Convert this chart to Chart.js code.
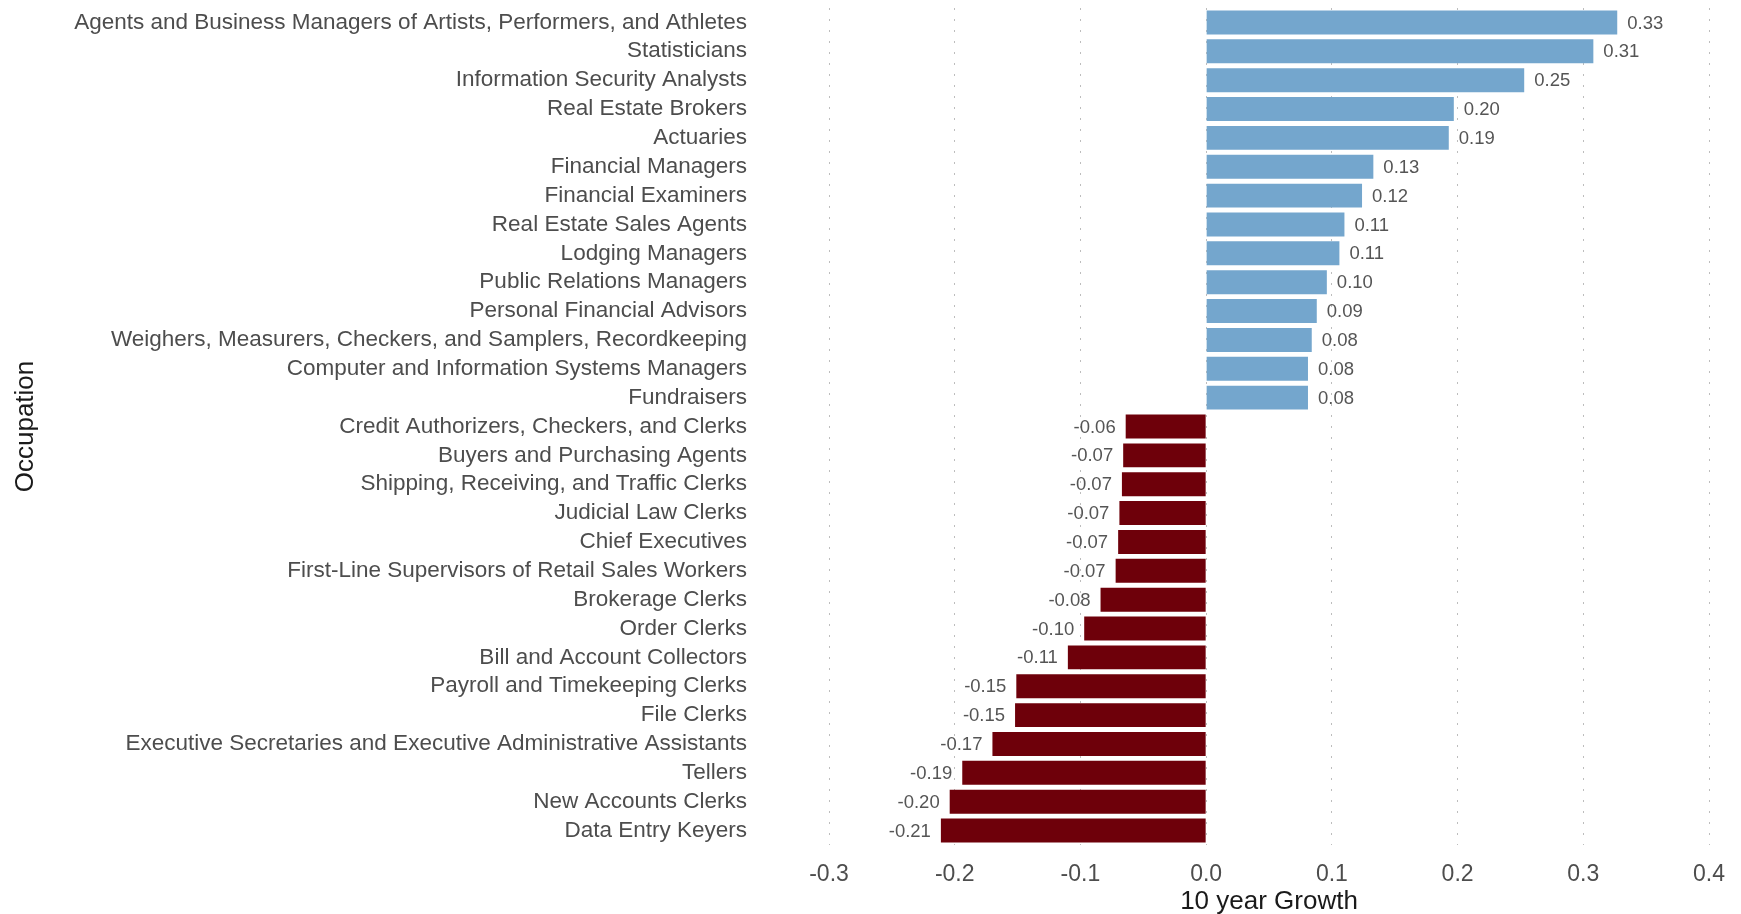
<!DOCTYPE html>
<html>
<head>
<meta charset="utf-8">
<script src="https://cdn.jsdelivr.net/npm/chart.js@4/dist/chart.umd.min.js"></script>
<style>
  html, body { margin: 0; padding: 0; background: #fff; }
  #wrap { width: 1741px; height: 914px; }
</style>
</head>
<body>
<div id="wrap"><canvas id="growthChart" width="1741" height="914"></canvas></div>
<script>
// --- dados ---
const occupations = [
    'Agents and Business Managers of Artists, Performers, and Athletes',
    'Statisticians',
    'Information Security Analysts',
    'Real Estate Brokers',
    'Actuaries',
    'Financial Managers',
    'Financial Examiners',
    'Real Estate Sales Agents',
    'Lodging Managers',
    'Public Relations Managers',
    'Personal Financial Advisors',
    'Weighers, Measurers, Checkers, and Samplers, Recordkeeping',
    'Computer and Information Systems Managers',
    'Fundraisers',
    'Credit Authorizers, Checkers, and Clerks',
    'Buyers and Purchasing Agents',
    'Shipping, Receiving, and Traffic Clerks',
    'Judicial Law Clerks',
    'Chief Executives',
    'First-Line Supervisors of Retail Sales Workers',
    'Brokerage Clerks',
    'Order Clerks',
    'Bill and Account Collectors',
    'Payroll and Timekeeping Clerks',
    'File Clerks',
    'Executive Secretaries and Executive Administrative Assistants',
    'Tellers',
    'New Accounts Clerks',
    'Data Entry Keyers'
];

const growth = [
    0.327, 0.308, 0.253, 0.197, 0.193, 0.133, 0.124, 0.110, 0.106, 0.096,
    0.088, 0.084, 0.081, 0.081,
    -0.064, -0.066, -0.067, -0.069, -0.070, -0.072, -0.084, -0.097, -0.110,
    -0.151, -0.152, -0.170, -0.194, -0.204, -0.211
];

const xTicks = [-0.3, -0.2, -0.1, 0.0, 0.1, 0.2, 0.3, 0.4];

const FONT = "'Liberation Sans', Arial, sans-serif";
const POS_COLOR = '#74a6cd';
const NEG_COLOR = '#6e000a';

// rótulos de valor ao lado das barras
const valueLabels = {
    id: 'valueLabels',
    afterDatasetsDraw(chart) {
        const ctx = chart.ctx;
        const meta = chart.getDatasetMeta(0);
        ctx.save();
        ctx.font = '18.5px ' + FONT;
        ctx.fillStyle = '#555555';
        ctx.textBaseline = 'middle';
        meta.data.forEach((bar, i) => {
            const v = growth[i];
            const txt = v.toFixed(2);
            if (v >= 0) {
                ctx.textAlign = 'left';
                ctx.fillText(txt, bar.x + 10, bar.y + 1);
            } else {
                ctx.textAlign = 'right';
                ctx.fillText(txt, bar.x - 10, bar.y + 1);
            }
        });
        ctx.restore();
    }
};

new Chart(document.getElementById('growthChart'), {
    type: 'bar',
    data: {
        labels: occupations,
        datasets: [{
            data: growth,
            backgroundColor: growth.map(v => v >= 0 ? POS_COLOR : NEG_COLOR),
            borderWidth: 0,
            barPercentage: 0.83,
            categoryPercentage: 1.0
        }]
    },
    options: {
        indexAxis: 'y',
        responsive: false,
        animation: false,
        layout: { padding: { top: 8, left: 0, right: 0, bottom: 0 } },
        plugins: {
            legend: { display: false },
            tooltip: { enabled: false }
        },
        scales: {
            x: {
                type: 'linear',
                min: -0.3,
                max: 0.4,
                afterBuildTicks: (scale) => {
                    scale.ticks = xTicks.map(v => ({ value: v }));
                },
                afterFit: (scale) => { scale.height = 69; },
                border: { display: false, dash: [2, 9] },
                grid: {
                    color: '#bdbdbd',
                    lineWidth: 1,
                    drawTicks: false
                },
                ticks: {
                    padding: 16,
                    color: '#4d4d4d',
                    font: { family: FONT, size: 23 },
                    callback: (v) => Number(v).toFixed(1)
                },
                title: {
                    display: true,
                    text: '10 year Growth',
                    color: '#1a1a1a',
                    font: { family: FONT, size: 26 },
                    padding: { top: 0, bottom: -3 }
                }
            },
            y: {
                type: 'category',
                offset: true,
                afterFit: (scale) => {
                    scale.width = 829;
                    scale.paddingTop = 0;
                    scale.paddingBottom = 0;
                },
                border: { display: false },
                grid: { display: false, drawTicks: false },
                ticks: {
                    padding: 82,
                    autoSkip: false,
                    color: '#4d4d4d',
                    font: { family: FONT, size: 22.5 }
                },
                title: {
                    display: true,
                    text: 'Occupation',
                    color: '#1a1a1a',
                    font: { family: FONT, size: 26 },
                    padding: { top: 10, bottom: 0 }
                }
            }
        }
    },
    plugins: [valueLabels]
});
</script>
</body>
</html>
